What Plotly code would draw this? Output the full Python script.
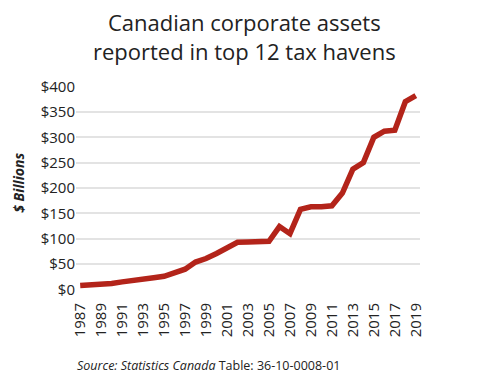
import plotly.graph_objects as go

years = list(range(1987, 2020))
assets = [8, 9, 10, 12, 15, 17, 19, 23, 26, 32, 40, 54, 61, 71, 81, 93, 93.5, 94, 95,
          124, 110, 158, 163, 163, 165, 190, 237, 250, 300, 312, 314, 370, 382]
tick_years = list(range(1987, 2020, 2))
y_ticks = [0, 50, 100, 150, 200, 250, 300, 350, 400]
y_labels = ["$" + str(v) for v in y_ticks]
title_lines = ["Canadian corporate assets", "reported in top 12 tax havens"]

font = "'Open Sans', Lato, sans-serif"
ink = "#222222"

fig = go.Figure()
fig.add_trace(go.Scatter(x=years, y=assets, mode="lines",
                         line=dict(color="#B3241A", width=5.5)))

fig.update_layout(
    width=480, height=386,
    margin=dict(l=76, r=60, t=86, b=96, autoexpand=False),
    paper_bgcolor="white", plot_bgcolor="white",
    showlegend=False,
    font=dict(family=font, color=ink),
    xaxis=dict(range=[1986.6, 2019.4], tickmode="array", tickvals=tick_years,
               ticktext=[str(y) for y in tick_years], tickangle=-90,
               tickfont=dict(size=15), showgrid=False, zeroline=False,
               showline=False, ticks="", automargin=False, ticklabelstandoff=9),
    yaxis=dict(range=[-1, 401], tickmode="array", tickvals=y_ticks, ticktext=y_labels,
               tickfont=dict(size=15), showgrid=True, gridcolor="#e3e3e3", gridwidth=1.5,
               zeroline=False, showline=False, ticks="", automargin=False),
    annotations=[
        dict(text="<br>".join(title_lines), xref="paper", yref="paper", x=0.49, y=1.245,
             xanchor="center", yanchor="middle", showarrow=False, align="center",
             font=dict(size=22, family=font, color=ink)),
        dict(text="<i>Source: Statistics Canada</i> Table: 36-10-0008-01",
             xref="paper", yref="paper", x=-0.003, y=-0.3725,
             xanchor="left", yanchor="middle", showarrow=False,
             font=dict(size=12.5, family=font, color=ink)),
        dict(text="<b><i>$ Billions</i></b>", textangle=-90,
             xref="paper", yref="paper", x=-0.166, y=0.525,
             xanchor="center", yanchor="middle", showarrow=False,
             font=dict(size=14, family=font, color=ink)),
    ],
)
fig.write_html("out.html", config={"displayModeBar": False},
               post_script="document.body.style.margin='0';")
